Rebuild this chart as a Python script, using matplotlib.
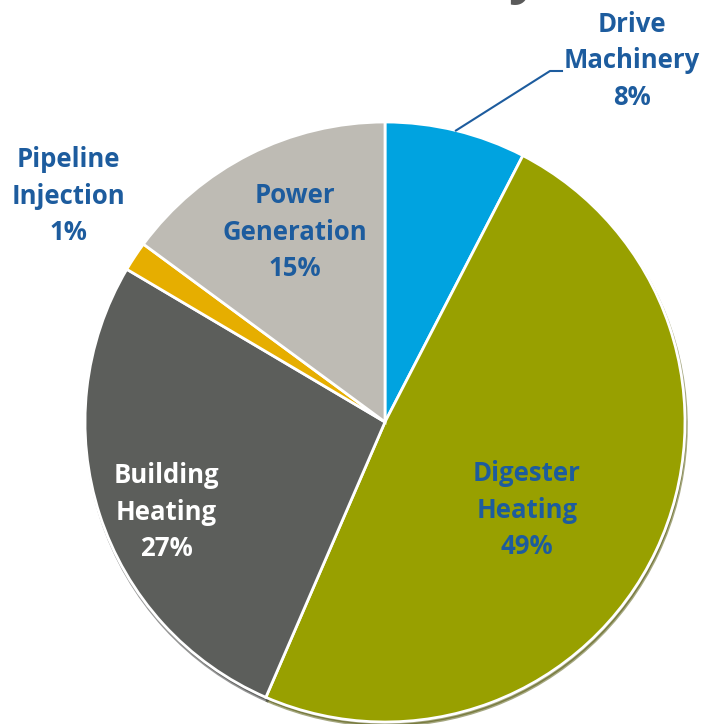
import numpy as np
from matplotlib import pyplot as plt

# Shares of biogas use and the rounded labels shown
categories = ["Drive\nMachinery", "Digester\nHeating", "Building\nHeating", "Pipeline\nInjection", "Power\nGeneration"]
shares = [7.6, 48.9, 27.0, 1.6, 14.9]
pct_labels = ["8%", "49%", "27%", "1%", "15%"]
colors = ["#00A3E0", "#98A000", "#5C5E5B", "#E6AE00", "#BEBBB4"]

W, H = 709, 724
fig = plt.figure(figsize=(W/100, H/100), dpi=100)
ax = fig.add_axes([0, 0, 1, 1])

# pixel-like data coordinates, y measured upwards
cx, cy, r = 385, H - 422, 300
wedges, _ = ax.pie(shares, colors=colors, startangle=90, counterclock=False,
                   center=(cx, cy), radius=r,
                   wedgeprops={"edgecolor": "white", "linewidth": 2},
                   shadow={"ox": 1.0, "oy": -2.5, "shade": 0.5})
ax.set_xlim(0, W)
ax.set_ylim(0, H)
ax.set_aspect("equal")
ax.axis("off")

blue = "#1D5C9E"
font = dict(family="Open Sans", fontweight="bold", fontsize=18.5, ha="center", va="center", linespacing=1.45)

# label positions (pixels from top-left)
label_pos = [(632, 61), (527, 510), (166, 512), (68, 196), (295, 232)]
label_col = [blue, blue, "white", blue, blue]
for name, pct, (x, y), c in zip(categories, pct_labels, label_pos, label_col):
    ax.text(x, H - y, f"{name}\n{pct}", color=c, **font)

# leader line for the small Drive Machinery slice
w = wedges[0]
mid = np.deg2rad((w.theta1 + w.theta2) / 2)
ex, ey = cx + r * np.cos(mid), cy + r * np.sin(mid)
ax.plot([ex, 550, 562], [ey, H - 71, H - 71], color=blue, lw=1.5)

# bottom of the cut-off title
ax.text(540, H + 8, "y", color="#5A5A5A", family="Open Sans", fontweight="bold",
        fontsize=40, ha="right", va="baseline", clip_on=False)

plt.savefig("out.png", dpi=100)
